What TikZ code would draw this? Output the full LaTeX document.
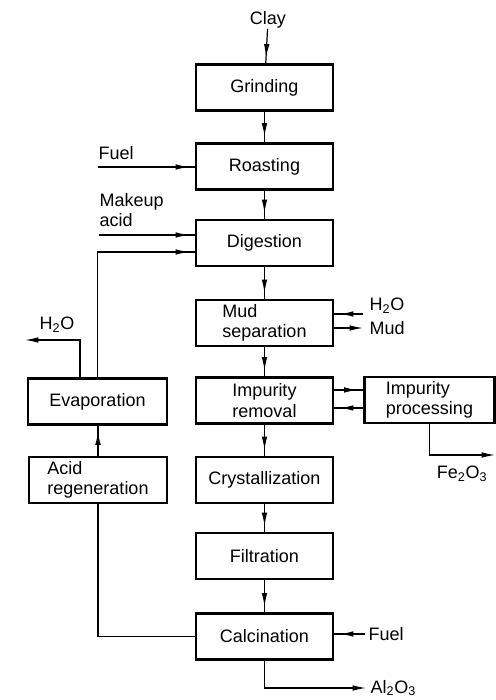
\documentclass[tikz,border=0pt]{standalone}
\usepackage{fontspec}
\setmainfont{Liberation Sans}
\usetikzlibrary{arrows.meta,decorations.markings}

\tikzset{every picture/.style={line width=0.9pt}}
\tikzset{
  unit/.style={draw, line width=1.6pt, minimum width=102.75pt, minimum height=34.5pt, inner sep=2pt, font=\fontsize{13.5}{15.5}\selectfont},
  stream/.style={inner sep=0pt, font=\fontsize{13.5}{15.5}\selectfont},
  feed/.style={postaction={decorate}, decoration={markings, mark=at position -4.5pt with {\arrow{Latex[length=10pt,width=4.2pt]}}}},
  exitarrow/.style={-{Latex[length=10pt,width=4.2pt]}},
}

\begin{document}
\begin{tikzpicture}[x=0.75pt,y=0.75pt,yscale=-1,xscale=1]
\useasboundingbox (0,0) rectangle (496,700);

%Main column
\node [unit] (grinding) at (264.5,87.5) {Grinding};
\node [unit] (roasting) at (264.5,166.5) {Roasting};
\node [unit] (digestion) at (264.5,243) {Digestion};
\node [unit, align=left] (mudsep) at (264.5,323) {Mud\\separation};
\node [unit, align=center] (impremoval) at (264.5,400.5) {Impurity\\removal};
\node [unit] (crystal) at (264.5,480) {Crystallization};
\node [unit] (filtration) at (264.5,556) {Filtration};
\node [unit] (calcination) at (264.5,636.5) {Calcination};
%Left column
\node [unit, minimum width=104pt] (evaporation) at (97.5,401.5) {Evaporation};
\node [unit, minimum width=103.5pt, align=left] (acidregen) at (98,480) {Acid\\regeneration};
%Right side
\node [unit, minimum width=97.5pt, align=left] (impproc) at (429.5,400) {Impurity\\processing};

% Text Node
\node [stream] (clay) at (268,20) {Clay};
% Text Node
\node [stream, anchor=west] (fuelA) at (98,153) {Fuel};
% Text Node
\node [stream, anchor=west, align=left] (makeup) at (99,210) {Makeup\\acid};
% Text Node
\node [stream, anchor=west] (h2oM) at (369,306) {H\textsubscript{2}O};
% Text Node
\node [stream, anchor=west] (mud) at (369,328) {Mud};
% Text Node
\node [stream] (h2oL) at (57,325) {H\textsubscript{2}O};
% Text Node
\node [stream] (fe2o3) at (462,474) {Fe\textsubscript{2}O\textsubscript{3}};
% Text Node
\node [stream, anchor=west] (fuelB) at (368,634) {Fuel};
% Text Node
\node [stream, anchor=west] (al2o3) at (370,688) {Al\textsubscript{2}O\textsubscript{3}};

%Free ends
\coordinate (fuelin) at (98,167);
\coordinate (acidin) at (99,235);
\coordinate (waterin) at (363,314);
\coordinate (mudout) at (363,328);
\coordinate (waterout) at (25,340);
\coordinate (feout) at (495,455);
\coordinate (fuelcin) at (365,634);
\coordinate (alout) at (366,688);
\coordinate (ir1) at ([yshift=-7.9pt]impremoval.east);
\coordinate (ir2) at ([yshift=5.6pt]impremoval.east);

%Main flow
\draw [feed] (clay) -- (grinding);
\draw [feed] (grinding) -- (roasting);
\draw [feed] (roasting) -- (digestion);
\draw [feed] (digestion) -- (mudsep);
\draw [feed] (mudsep) -- (impremoval);
\draw [feed] (impremoval) -- (crystal);
\draw [feed] (crystal) -- (filtration);
\draw [feed] (filtration) -- (calcination);

%Side streams
\draw [feed] (fuelin) -- (fuelin -| roasting.west);
\draw [feed] (acidin) -- (acidin -| digestion.west);
\draw [feed] (waterin) -- (waterin -| mudsep.east);
\draw [exitarrow] (mudout -| mudsep.east) -- (mudout);
\draw [feed] (ir1) -- (ir1 -| impproc.west);
\draw [feed] (ir2 -| impproc.west) -- (ir2);
\draw [exitarrow] (impproc) |- (feout);
\draw [feed] (fuelcin) -- (fuelcin -| calcination.east);
\draw [exitarrow] (calcination) |- (alout);

%Acid recycle loop
\draw (acidregen) |- (calcination);
\draw [feed] (acidregen.north) -- (acidregen.north |- evaporation.south);
\draw [feed] (evaporation) |- ([yshift=6.75pt]digestion.west);
\draw [exitarrow] ([xshift=-13.1pt]evaporation.north) |- (waterout);

\end{tikzpicture}
\end{document}
